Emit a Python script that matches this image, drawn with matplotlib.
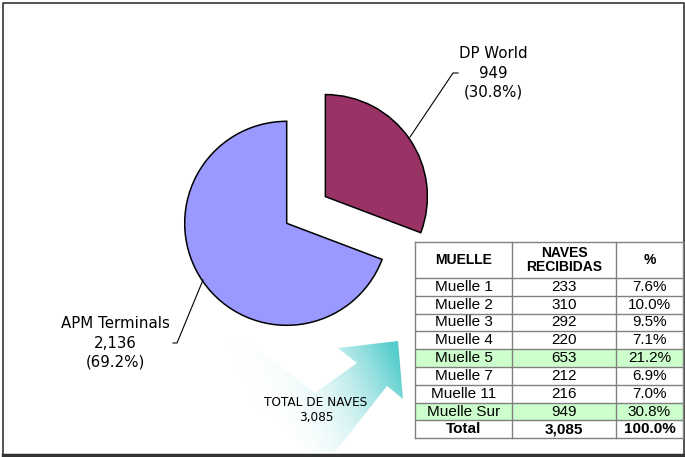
import numpy as np
import matplotlib.pyplot as plt
from matplotlib.patches import Polygon, Rectangle

W, H = 685, 457

# datos del grafico
empresas = ['DP World', 'APM Terminals']
naves = [949, 2136]
porcentajes = ['30.8%', '69.2%']
colores = ['#993366', '#9999ff']

# datos de la tabla
muelles = ['Muelle 1', 'Muelle 2', 'Muelle 3', 'Muelle 4', 'Muelle 5',
           'Muelle 7', 'Muelle 11', 'Muelle Sur']
naves_muelle = ['233', '310', '292', '220', '653', '212', '216', '949']
pct_muelle = ['7.6%', '10.0%', '9.5%', '7.1%', '21.2%', '6.9%', '7.0%', '30.8%']
resaltados = ['Muelle 5', 'Muelle Sur']
total_naves = '3,085'


def Y(py):
    # paso de coordenadas de pixel (y hacia abajo) a datos
    return H - py


fig = plt.figure(figsize=(6.85, 4.57), dpi=100)
ax = fig.add_axes([0, 0, 1, 1])

# flecha con degradado
flecha = [(225, 340), (245, 340), (315, 393), (357, 363), (338, 348),
          (398, 341), (403, 399), (387, 386), (335, 452), (312, 452),
          (225, 373)]
poly = Polygon([(x, Y(y)) for x, y in flecha], closed=True,
               facecolor='none', edgecolor='none')
ax.add_patch(poly)
gx = np.linspace(0, 1, 200)[None, :]
gy = np.linspace(0, 1, 120)[:, None]   # 0 arriba, 1 abajo
t = np.clip(gx * 1.1 - gy * 0.35, 0, 1) ** 2.2
cian = np.array([0.33, 0.80, 0.80])
img = (1 - t)[..., None] * 1.0 + t[..., None] * cian
im = ax.imshow(img, extent=(225, 405, Y(455), Y(338)), aspect='auto',
               interpolation='bilinear', zorder=1)
im.set_clip_path(poly)

# pastel
ax.pie(naves, startangle=90, counterclock=False, explode=[47, 0],
       colors=colores, center=(286.7, Y(223.3)), radius=102,
       wedgeprops=dict(edgecolor='black', linewidth=1.1))

# etiquetas con lineas guia
ax.plot([410, 453, 458], [Y(137), Y(73), Y(73)], color='black', lw=0.8)
ax.plot([203, 177, 173], [Y(280), Y(343), Y(343)], color='black', lw=0.8)
ax.text(493, Y(73), '%s\n%s\n(%s)' % (empresas[0], format(naves[0], ','), porcentajes[0]),
        ha='center', va='center', fontsize=10.8, linespacing=1.35, family='DejaVu Sans')
ax.text(115, Y(343), '%s\n%s\n(%s)' % (empresas[1], format(naves[1], ','), porcentajes[1]),
        ha='center', va='center', fontsize=10.8, linespacing=1.35, family='DejaVu Sans')

ax.text(316, Y(410), 'TOTAL DE NAVES\n' + total_naves, ha='center', va='center',
        fontsize=8.7, linespacing=1.3, family='DejaVu Sans', zorder=3)

# tabla
cols = [415, 512, 616, 683]
filas = [242, 278] + [278 + 17.8 * (i + 1) for i in range(9)]
gris = '#808080'
fuente = 'Liberation Sans'

for i, m in enumerate(muelles):
    y0, y1 = filas[i + 1], filas[i + 2]
    if m in resaltados:
        ax.add_patch(Rectangle((cols[0], Y(y1)), cols[3] - cols[0], y1 - y0,
                               facecolor='#ccffcc', edgecolor='none', zorder=2))
    yc = Y((y0 + y1) / 2)
    for j, txt in enumerate([m, naves_muelle[i], pct_muelle[i]]):
        ax.text((cols[j] + cols[j + 1]) / 2, yc, txt, ha='center', va='center',
                fontsize=11, family=fuente, zorder=4)

yc = Y((filas[-2] + filas[-1]) / 2)
for j, txt in enumerate(['Total', total_naves, '100.0%']):
    ax.text((cols[j] + cols[j + 1]) / 2, yc, txt, ha='center', va='center',
            fontsize=11, fontweight='bold', family=fuente, zorder=4)

yc = Y((filas[0] + filas[1]) / 2)
for j, txt in enumerate(['MUELLE', 'NAVES\nRECIBIDAS', '%']):
    ax.text((cols[j] + cols[j + 1]) / 2, yc, txt, ha='center', va='center',
            fontsize=10, fontweight='bold', family=fuente, linespacing=1.0, zorder=4)

ax.add_patch(Rectangle((cols[0], Y(filas[-1])), cols[3] - cols[0], filas[-1] - filas[0],
                       facecolor='white', edgecolor='none', zorder=1.5))
for y in filas:
    ax.plot([cols[0], cols[3]], [Y(y), Y(y)], color=gris, lw=1, zorder=3)
for x in cols:
    ax.plot([x, x], [Y(filas[0]), Y(filas[-1])], color=gris, lw=1, zorder=3)

# marco
ax.plot([3, 3, 684, 684], [Y(455), Y(2.5), Y(2.5), Y(455)], color='#333333', lw=1.2)
ax.plot([3, 685], [Y(455), Y(455)], color='#333333', lw=2.5)

ax.set_xlim(0, W)
ax.set_ylim(0, H)
ax.set_aspect('auto')
ax.axis('off')

plt.savefig('out.png', dpi=100)
